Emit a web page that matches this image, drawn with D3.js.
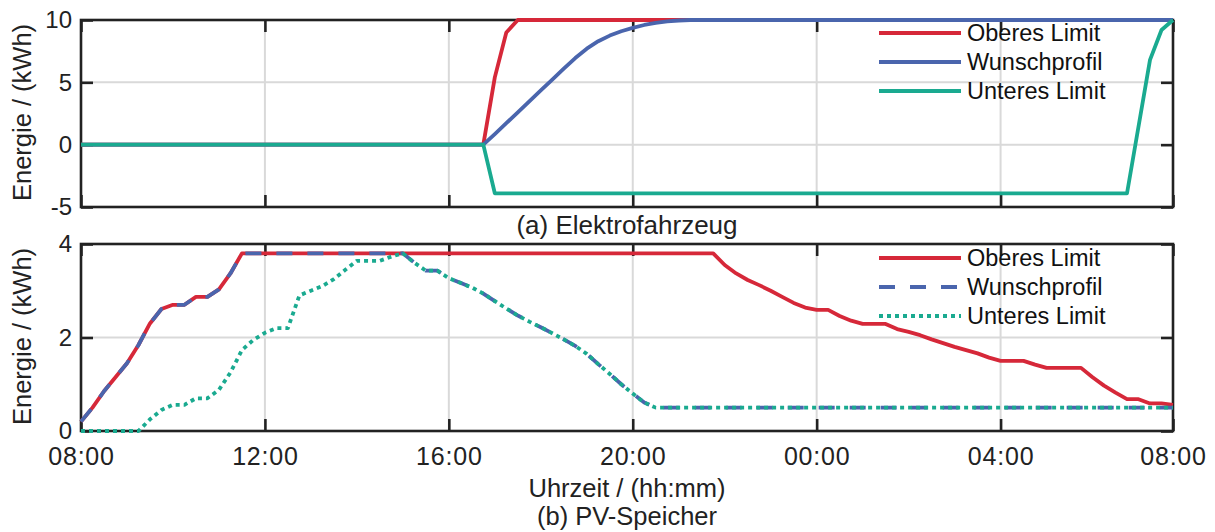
<!DOCTYPE html>
<html><head><meta charset="utf-8">
<script src="https://cdn.jsdelivr.net/npm/d3@7"></script>
<style>
body{margin:0;background:#fff}
text{font-family:"Liberation Sans",Arial,Helvetica,sans-serif}
</style>
</head><body>
<svg id="c" width="1215" height="532"></svg>
<script>
// ---------- data (hours after 08:00, energy in kWh) ----------
const xTickHours = [0, 4, 8, 12, 16, 20, 23.75];
const xTickLabels = ["08:00", "12:00", "16:00", "20:00", "00:00", "04:00", "08:00"];
const seriesNames = ["Oberes Limit", "Wunschprofil", "Unteres Limit"];

// (a) Elektrofahrzeug
const evTicks = [-5, 0, 5, 10];
const evTickLabels = ["-5", "0", "5", "10"];
const evUpperH   = [0, 8.75, 9.0, 9.25, 9.5, 23.75];
const evUpperKWh = [0, 0, 5.4, 9.0, 10, 10];
const evWishH   = [0, 8.75, 9.0, 9.25, 9.5, 9.75, 10.0, 10.25, 10.5, 10.75, 11.0, 11.25, 11.5, 11.75, 12.0, 12.25, 12.5, 12.75, 13.0, 13.25, 23.75];
const evWishKWh = [0, 0, 0.85, 1.72, 2.6, 3.48, 4.35, 5.22, 6.1, 6.95, 7.7, 8.3, 8.75, 9.1, 9.37, 9.6, 9.77, 9.89, 9.96, 10, 10];
const evLowerH   = [0, 8.75, 9.0, 22.75, 23.25, 23.5, 23.75];
const evLowerKWh = [0, 0, -3.9, -3.9, 6.8, 9.2, 10];

// (b) PV-Speicher
const pvTicks = [0, 2, 4];
const pvTickLabels = ["0", "2", "4"];
const pvUpperH = [0, 0.25, 0.5, 0.75, 1.0, 1.25, 1.5, 1.75, 2.0, 2.25, 2.5, 2.75, 3.0, 3.25, 3.5,
  13.75, 14.0, 14.25, 14.5, 14.75, 15.0, 15.25, 15.5, 15.75, 16.0, 16.25, 16.5, 16.75, 17.0, 17.25, 17.5, 17.75,
  18.0, 18.25, 18.5, 18.75, 19.0, 19.25, 19.5, 19.75, 20.0, 20.25, 20.5, 20.75, 21.0, 21.25, 21.5, 21.75,
  22.0, 22.25, 22.5, 22.75, 23.0, 23.25, 23.5, 23.75];
const pvUpperKWh = [0.2, 0.5, 0.85, 1.15, 1.45, 1.84, 2.3, 2.61, 2.7, 2.7, 2.87, 2.87, 3.03, 3.37, 3.8,
  3.8, 3.55, 3.37, 3.23, 3.12, 3.0, 2.87, 2.74, 2.64, 2.59, 2.59, 2.46, 2.36, 2.29, 2.29, 2.29, 2.18,
  2.12, 2.05, 1.96, 1.88, 1.8, 1.73, 1.66, 1.57, 1.5, 1.5, 1.5, 1.42, 1.35, 1.35, 1.35, 1.35,
  1.15, 0.97, 0.82, 0.68, 0.68, 0.59, 0.59, 0.56];
const pvLowerH = [0, 1.25, 1.5, 1.75, 2.0, 2.25, 2.5, 2.75, 3.0, 3.25, 3.5, 3.75, 4.0, 4.25, 4.5, 4.75,
  5.0, 5.25, 5.5, 5.75, 6.0, 6.25, 6.5, 6.75, 7.0, 7.25, 7.5, 7.75, 8.0, 8.25, 8.5, 8.75, 9.0, 9.25,
  9.5, 9.75, 10.0, 10.25, 10.5, 10.75, 11.0, 11.25, 11.5, 11.75, 12.0, 12.25, 12.5, 23.75];
const pvLowerKWh = [0, 0, 0.25, 0.45, 0.56, 0.56, 0.7, 0.7, 0.88, 1.25, 1.73, 1.95, 2.1, 2.2, 2.2, 2.9,
  3.0, 3.1, 3.25, 3.45, 3.64, 3.64, 3.64, 3.73, 3.8, 3.6, 3.43, 3.43, 3.27, 3.17, 3.07, 2.94, 2.78, 2.62,
  2.47, 2.34, 2.22, 2.09, 1.96, 1.82, 1.65, 1.43, 1.22, 1.0, 0.8, 0.61, 0.5, 0.5];
const pvWishH = [0, 0.25, 0.5, 0.75, 1.0, 1.25, 1.5, 1.75, 2.0, 2.25, 2.5, 2.75, 3.0, 3.25, 3.5,
  7.0, 7.25, 7.5, 7.75, 8.0, 8.25, 8.5, 8.75, 9.0, 9.25, 9.5, 9.75, 10.0, 10.25, 10.5, 10.75, 11.0,
  11.25, 11.5, 11.75, 12.0, 12.25, 12.5, 23.75];
const pvWishKWh = [0.2, 0.5, 0.85, 1.15, 1.45, 1.84, 2.3, 2.61, 2.7, 2.7, 2.87, 2.87, 3.03, 3.37, 3.8,
  3.8, 3.6, 3.43, 3.43, 3.27, 3.17, 3.07, 2.94, 2.78, 2.62, 2.47, 2.34, 2.22, 2.09, 1.96, 1.82, 1.65,
  1.43, 1.22, 1.0, 0.8, 0.61, 0.5, 0.5];

// ---------- drawing ----------
const COL = {red: "#d62839", blue: "#4a65ad", teal: "#1aaa90", frame: "#222", grid: "#d9d9d9"};
const FONT = 24;
const svg = d3.select("#c");
const x = d3.scaleLinear().domain([0, 23.75]).range([81, 1173]);
const zip = (a, b) => a.map((v, i) => [v, b[i]]);

function panel(cfg) {
  const y = d3.scaleLinear().domain(cfg.domain).range([cfg.bottom, cfg.top]);
  const g = svg.append("g");
  // grid
  g.selectAll(".gx").data(xTickHours.slice(1, -1)).join("line")
    .attr("x1", d => x(d)).attr("x2", d => x(d)).attr("y1", cfg.top).attr("y2", cfg.bottom)
    .attr("stroke", COL.grid).attr("stroke-width", 2);
  g.selectAll(".gy").data(cfg.ticks.slice(1, -1)).join("line")
    .attr("x1", x.range()[0]).attr("x2", x.range()[1]).attr("y1", d => y(d)).attr("y2", d => y(d))
    .attr("stroke", COL.grid).attr("stroke-width", 2);
  // frame
  g.append("rect").attr("x", x.range()[0]).attr("y", cfg.top)
    .attr("width", x.range()[1] - x.range()[0]).attr("height", cfg.bottom - cfg.top)
    .attr("fill", "none").attr("stroke", COL.frame).attr("stroke-width", 2.6);
  // axes
  const styleAxis = sel => {
    sel.attr("font-size", FONT).attr("font-family", '"Liberation Sans",Arial,sans-serif');
    sel.select(".domain").remove();
    sel.selectAll(".tick line").attr("stroke", COL.frame).attr("stroke-width", 2.6);
    sel.selectAll(".tick text").attr("fill", "#222");
  };
  g.append("g").attr("transform", `translate(0,${cfg.bottom})`)
    .call(d3.axisBottom(x).tickValues(xTickHours).tickSize(-12).tickPadding(16)
      .tickFormat((d, i) => cfg.showX ? xTickLabels[i] : "")).call(styleAxis)
    .call(s => s.selectAll(".tick text").attr("font-size", 25).attr("letter-spacing", "0.8px"));
  g.append("g").attr("transform", `translate(0,${cfg.top})`)
    .call(d3.axisTop(x).tickValues(xTickHours).tickSize(-12).tickFormat("")).call(styleAxis);
  g.append("g").attr("transform", `translate(${x.range()[0]},0)`)
    .call(d3.axisLeft(y).tickValues(cfg.ticks).tickSize(-12).tickPadding(9)
      .tickFormat((d, i) => cfg.tickLabels[i])).call(styleAxis);
  g.append("g").attr("transform", `translate(${x.range()[1]},0)`)
    .call(d3.axisRight(y).tickValues(cfg.ticks).tickSize(-12).tickFormat("")).call(styleAxis);
  // y label
  g.append("text").attr("transform", `translate(31,${(cfg.top + cfg.bottom) / 2 - 1}) rotate(-90)`)
    .attr("text-anchor", "middle").attr("font-size", 25.5).attr("fill", "#222").text("Energie / (kWh)");
  // lines
  const line = d3.line().x(d => x(d[0])).y(d => y(d[1]));
  cfg.series.forEach(s => {
    g.append("path").attr("d", line(zip(s.h, s.v))).attr("fill", "none")
      .attr("stroke", s.color).attr("stroke-width", 3.8).attr("stroke-dasharray", s.dash || null)
      .attr("stroke-linejoin", "round");
  });
  // legend
  cfg.series.forEach((s, i) => {
    const ly = cfg.legendY + i * 29;
    g.append("line").attr("x1", 879).attr("x2", 961).attr("y1", ly).attr("y2", ly)
      .attr("stroke", s.color).attr("stroke-width", 3.8).attr("stroke-dasharray", s.dash || null);
    g.append("text").attr("x", 967).attr("y", ly).attr("dy", "0.35em")
      .attr("font-size", 23.5).attr("fill", "#111").text(seriesNames[i]);
  });
  return y;
}

panel({
  domain: [-5, 10], top: 20, bottom: 207, ticks: evTicks, tickLabels: evTickLabels, showX: false, legendY: 33,
  series: [
    {h: evUpperH, v: evUpperKWh, color: COL.red},
    {h: evWishH, v: evWishKWh, color: COL.blue},
    {h: evLowerH, v: evLowerKWh, color: COL.teal}
  ]
});
panel({
  domain: [0, 4], top: 244, bottom: 431, ticks: pvTicks, tickLabels: pvTickLabels, showX: true, legendY: 258,
  series: [
    {h: pvUpperH, v: pvUpperKWh, color: COL.red},
    {h: pvWishH, v: pvWishKWh, color: COL.blue, dash: "16,15"},
    {h: pvLowerH, v: pvLowerKWh, color: COL.teal, dash: "4,4"}
  ]
});

const cx = (x.range()[0] + x.range()[1]) / 2;
svg.append("text").attr("x", cx).attr("y", 234).attr("text-anchor", "middle")
  .attr("font-size", 26).attr("fill", "#222").text("(a) Elektrofahrzeug");
svg.append("text").attr("x", cx).attr("y", 497).attr("text-anchor", "middle")
  .attr("font-size", 25.5).attr("fill", "#222").text("Uhrzeit / (hh:mm)");
svg.append("text").attr("x", cx).attr("y", 525).attr("text-anchor", "middle")
  .attr("font-size", 25.5).attr("fill", "#222").text("(b) PV-Speicher");
</script>
</body></html>
